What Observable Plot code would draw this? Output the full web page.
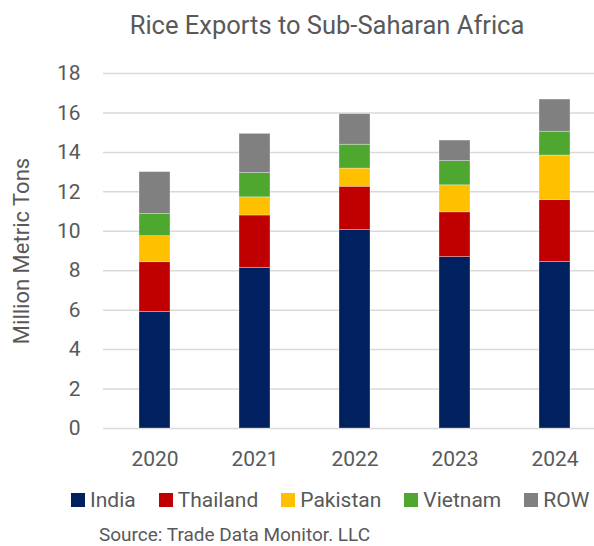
<!DOCTYPE html>
<html>
<head>
<meta charset="utf-8">
<script src="https://cdn.jsdelivr.net/npm/d3@7"></script>
<script src="https://cdn.jsdelivr.net/npm/@observablehq/plot@0.6"></script>
<style>
  html, body { margin: 0; padding: 0; background: #fff; }
  body { width: 594px; height: 546px; overflow: hidden; position: relative; font-family: Roboto, "Noto Sans", sans-serif; color: #595959; }
  #title { position: absolute; left: 60px; width: 534px; top: 9px; text-align: center; font-size: 25.5px; line-height: 32px; white-space: nowrap; }
  #chart { position: absolute; left: 0; top: 50px; }
  #legend { position: absolute; left: 71px; top: 487px; display: flex; white-space: nowrap; font-size: 21px; line-height: 26px; }
  .item { display: flex; align-items: center; margin-right: 23px; }
  .sw { width: 14px; height: 14px; margin-right: 5px; flex: none; }
  #source { position: absolute; left: 99px; top: 524px; font-size: 19px; line-height: 22px; white-space: nowrap; }
</style>
</head>
<body>
<div id="title">Rice Exports to Sub-Saharan Africa</div>
<div id="chart"></div>
<div id="legend"></div>
<div id="source">Source: Trade Data Monitor. LLC</div>
<script>
const years = ["2020", "2021", "2022", "2023", "2024"];
const seriesNames = ["India", "Thailand", "Pakistan", "Vietnam", "ROW"];
const seriesColors = ["#002060", "#C00000", "#FFC000", "#4EA72E", "#808080"];
const india    = [5.91, 8.15, 10.06, 8.69, 8.45];
const thailand = [2.52, 2.65, 2.20, 2.27, 3.13];
const pakistan = [1.32, 0.92, 0.92, 1.37, 2.26];
const vietnam  = [1.12, 1.23, 1.21, 1.23, 1.21];
const row      = [2.13, 1.99, 1.55, 1.04, 1.63];
const yTicks = [0, 2, 4, 6, 8, 10, 12, 14, 16, 18];

const valuesBySeries = [india, thailand, pakistan, vietnam, row];
const data = [];
years.forEach((yr, i) => {
  seriesNames.forEach((s, j) => {
    data.push({year: yr, series: s, value: valuesBySeries[j][i]});
  });
});

const chart = Plot.plot({
  width: 594,
  height: 425,
  marginTop: 23,
  marginBottom: 47,
  marginLeft: 103,
  marginRight: 0,
  style: {fontFamily: "Roboto, 'Noto Sans', sans-serif", color: "#595959", background: "transparent"},
  x: {domain: years, range: [103, 606], paddingInner: 0.686, paddingOuter: 0.343, label: null},
  y: {domain: [0, 18], label: null},
  color: {domain: seriesNames, range: seriesColors},
  marks: [
    Plot.ruleY(yTicks, {stroke: "#d9d9d9", strokeWidth: 1.5}),
    Plot.barY(data, {x: "year", y: "value", fill: "series", order: seriesNames, stroke: "#ffffff", strokeOpacity: 0.5, strokeWidth: 0.6}),
    Plot.axisX({tickSize: 0, tickPadding: 23, fontSize: 21, label: null}),
    Plot.axisY({ticks: yTicks, tickSize: 0, tickPadding: 23, fontSize: 21,
      label: "Million Metric Tons", labelAnchor: "center", labelArrow: "none", labelOffset: 90}),
  ]
});
chart.querySelectorAll("[aria-label='y-axis label'] text").forEach(t => t.setAttribute("font-size", 22));
document.getElementById("chart").appendChild(chart);

const legend = document.getElementById("legend");
seriesNames.forEach((s, j) => {
  const item = document.createElement("div");
  item.className = "item";
  const sw = document.createElement("span");
  sw.className = "sw";
  sw.style.background = seriesColors[j];
  const lab = document.createElement("span");
  lab.textContent = s;
  item.appendChild(sw);
  item.appendChild(lab);
  legend.appendChild(item);
});
</script>
</body>
</html>
